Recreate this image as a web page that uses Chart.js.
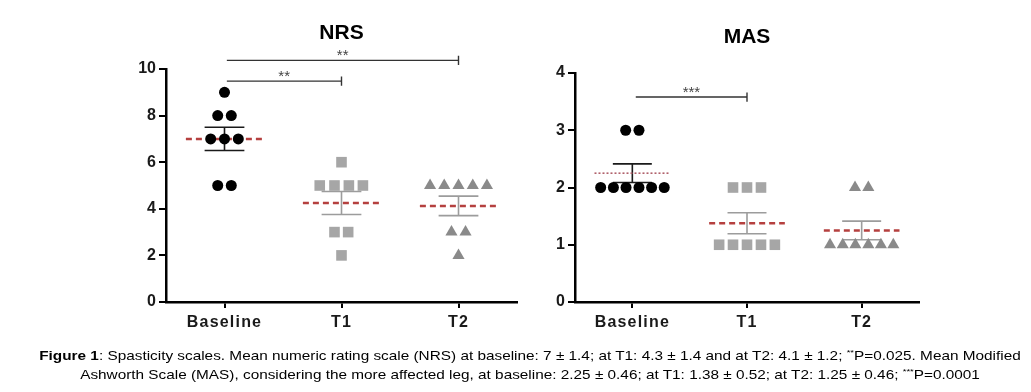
<!DOCTYPE html>
<html>
<head>
<meta charset="utf-8">
<script src="https://cdn.jsdelivr.net/npm/chart.js@4.4.0/dist/chart.umd.min.js"></script>
<style>
  body { margin: 0; background: #fff; width: 1031px; height: 392px; overflow: hidden; position: relative; font-family: Arial, "Liberation Sans", sans-serif; }
  #nrsBox { position: absolute; left: 0; top: 0; width: 530px; height: 340px; }
  #masBox { position: absolute; left: 530px; top: 0; width: 501px; height: 340px; }
  #caption { position: absolute; left: 20px; top: 347px; width: 1020px; text-align: center; font-size: 13px; line-height: 18.5px; color: #000; transform: scaleX(1.18); transform-origin: 510px 0; }
  #capWrap { position: absolute; left: 0; top: 0; width: 1031px; height: 392px; overflow: hidden; }
  #caption sup { font-size: 8px; line-height: 0; vertical-align: 5px; }
</style>
</head>
<body>
<div id="nrsBox"><canvas id="nrsChart"></canvas></div>
<div id="masBox"><canvas id="masChart"></canvas></div>
<div id="capWrap"><div id="caption"><b>Figure 1</b>: Spasticity scales. Mean numeric rating scale (NRS) at baseline: 7 ± 1.4; at T1: 4.3 ± 1.4 and at T2: 4.1 ± 1.2; <sup>**</sup>P=0.025. Mean Modified<br>Ashworth Scale (MAS), considering the more affected leg, at baseline: 2.25 ± 0.46; at T1: 1.38 ± 0.52; at T2: 1.25 ± 0.46; <sup>***</sup>P=0.0001</div></div>
<script>
const groups = ['Baseline', 'T1', 'T2'];

// NRS scores per patient, and the sideways spread of each dot (in group units)
const nrsBaseline = [9, 8, 8, 7, 7, 7, 5, 5];
const nrsBaselineSpread = [0, -0.058, 0.058, -0.118, 0, 0.118, -0.058, 0.058];
const nrsT1 = [6, 5, 5, 5, 5, 3, 3, 2];
const nrsT1Spread = [0, -0.186, -0.06, 0.063, 0.183, -0.06, 0.057, 0];
const nrsT2 = [5, 5, 5, 5, 5, 3, 3, 2];
const nrsT2Spread = [-0.243, -0.122, 0, 0.122, 0.243, -0.06, 0.06, 0];
const nrsMean = [7, 4.25, 4.125];
const nrsSem = [0.5, 0.495, 0.42];

// MAS scores
const masBaseline = [3, 3, 2, 2, 2, 2, 2, 2];
const masBaselineSpread = [-0.058, 0.058, -0.276, -0.165, -0.055, 0.058, 0.168, 0.278];
const masT1 = [2, 2, 2, 1, 1, 1, 1, 1];
const masT1Spread = [-0.122, 0, 0.122, -0.243, -0.122, 0, 0.122, 0.243];
const masT2 = [2, 2, 1, 1, 1, 1, 1, 1];
const masT2Spread = [-0.058, 0.058, -0.276, -0.165, -0.055, 0.058, 0.168, 0.276];
const masMean = [2.25, 1.375, 1.25];
const masSem = [0.163, 0.184, 0.163];

// significance brackets: from group, to group, height, stars
const nrsSig = [[1.02, 3, 10.37, '**'], [1.02, 2, 9.48, '**']];
const masSig = [[1.03, 2, 3.58, '***']];

const groupColors = ['#000000', '#a6a6a6', '#8a8a8a'];
const barColors = ['#1a1a1a', '#9c9c9c', '#9c9c9c'];
const shapes = ['circle', 'rect', 'triangle'];
const shapeRadius = [5.5, 7.5, 7];

function scatterPoints(groupIndex, values, spread) {
  return values.map((v, i) => ({ x: groupIndex + 1 + spread[i], y: v }));
}

function errorBar(groupIndex, mean, sem) {
  const c = groupIndex + 1, w = 0.17;
  return [
    { x: c - w, y: mean + sem }, { x: c + w, y: mean + sem }, { x: c, y: null },
    { x: c, y: mean + sem }, { x: c, y: mean - sem }, { x: c, y: null },
    { x: c - w, y: mean - sem }, { x: c + w, y: mean - sem }
  ];
}

const figureText = {
  id: 'figureText',
  afterDraw(chart, args, opts) {
    const { ctx, scales: { x, y } } = chart;
    ctx.save();
    ctx.fillStyle = '#000';
    ctx.textAlign = 'center';
    ctx.textBaseline = 'middle';
    ctx.font = 'bold 21px Arial, "Liberation Sans", sans-serif';
    ctx.fillText(opts.title, x.getPixelForValue(2), opts.titleY);

    ctx.font = 'bold 16px Arial, "Liberation Sans", sans-serif';
    ctx.fillStyle = '#1a1a1a';
    if ('letterSpacing' in ctx) ctx.letterSpacing = '1.2px';
    groups.forEach((g, i) => ctx.fillText(g, x.getPixelForValue(i + 1), y.bottom + 21));
    if ('letterSpacing' in ctx) ctx.letterSpacing = '0px';

    // stars over the brackets
    ctx.font = '15px Arial, "Liberation Sans", sans-serif';
    ctx.fillStyle = '#444';
    ctx.textBaseline = 'alphabetic';
    opts.sig.forEach(s => {
      ctx.fillText(s[3], x.getPixelForValue((s[0] + s[1]) / 2), y.getPixelForValue(s[2]) - 0.5);
    });
    ctx.restore();
  }
};

function makeChart(id, o) {
  const datasets = [];
  o.scores.forEach((vals, g) => {
    datasets.push({
      data: scatterPoints(g, vals, o.spread[g]),
      pointStyle: shapes[g],
      pointRadius: shapeRadius[g],
      backgroundColor: groupColors[g],
      borderColor: groupColors[g],
      borderWidth: 0,
      clip: false
    });
  });
  o.mean.forEach((m, g) => {
    datasets.push({
      data: [{ x: g + 1 - 0.33, y: m }, { x: g + 1 + 0.33, y: m }],
      showLine: true, pointRadius: 0,
      borderColor: o.meanColor[g], borderWidth: o.meanWidth[g], borderDash: o.meanDash[g],
      clip: false
    });
    datasets.push({
      data: errorBar(g, m, o.sem[g]),
      showLine: true, pointRadius: 0, spanGaps: false,
      borderColor: barColors[g], borderWidth: 1.6,
      clip: false
    });
  });
  o.sig.forEach(s => {
    datasets.push({
      data: [{ x: s[0], y: s[2] }, { x: s[1], y: s[2] }, { x: s[1], y: null },
             { x: s[1], y: s[2] + o.sigTick }, { x: s[1], y: s[2] - o.sigTick }],
      showLine: true, pointRadius: 0, spanGaps: false,
      borderColor: '#333', borderWidth: 1.4,
      clip: false
    });
  });

  return new Chart(document.getElementById(id), {
    type: 'scatter',
    data: { datasets },
    options: {
      responsive: true,
      maintainAspectRatio: false,
      animation: false,
      layout: { padding: o.padding },
      scales: {
        x: {
          type: 'linear', min: 0.5, max: 3.5,
          afterBuildTicks(s) { s.ticks = [1, 2, 3].map(v => ({ value: v })); },
          afterFit(s) { s.height = 30; },
          ticks: { display: false },
          grid: { drawOnChartArea: false, color: '#000', lineWidth: 2, tickLength: 6 },
          border: { color: '#000', width: 2.5 }
        },
        y: {
          min: 0, max: o.yMax,
          afterFit(s) { s.width = 40; },
          ticks: { stepSize: o.yStep, color: '#1a1a1a', padding: 3, font: { family: 'Arial, "Liberation Sans", sans-serif', weight: 'bold', size: 16 } },
          grid: { drawOnChartArea: false, color: '#000', lineWidth: 2, tickLength: 7 },
          border: { color: '#000', width: 2.5 }
        }
      },
      plugins: {
        legend: { display: false },
        tooltip: { enabled: false },
        figureText: { title: o.title, titleY: o.titleY, sig: o.sig }
      }
    },
    plugins: [figureText]
  });
}

makeChart('nrsChart', {
  title: 'NRS', titleY: 33,
  scores: [nrsBaseline, nrsT1, nrsT2],
  spread: [nrsBaselineSpread, nrsT1Spread, nrsT2Spread],
  mean: nrsMean, sem: nrsSem,
  meanColor: ['#b5403f', '#b5403f', '#b5403f'],
  meanWidth: [2.5, 2.5, 2.5],
  meanDash: [[6, 4], [6, 4], [6, 4]],
  sig: nrsSig, sigTick: 0.2,
  yMax: 10, yStep: 2,
  padding: { left: 126, right: 13, top: 69, bottom: 8 }
});

makeChart('masChart', {
  title: 'MAS', titleY: 37.5,
  scores: [masBaseline, masT1, masT2],
  spread: [masBaselineSpread, masT1Spread, masT2Spread],
  mean: masMean, sem: masSem,
  meanColor: ['#b0606a', '#b5403f', '#b5403f'],
  meanWidth: [1.6, 2.5, 2.5],
  meanDash: [[2, 2], [6, 4], [6, 4]],
  sig: masSig, sigTick: 0.08,
  yMax: 4, yStep: 1,
  padding: { left: 5, right: 112, top: 73, bottom: 8 }
});
</script>
</body>
</html>
